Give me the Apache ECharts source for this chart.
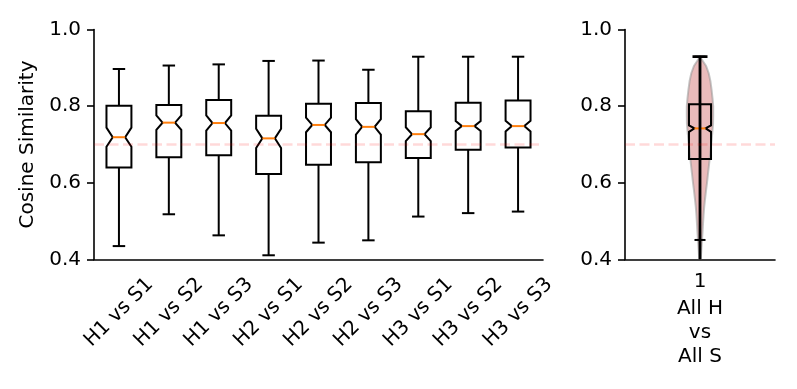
<!DOCTYPE html>
<html>
<head>
<meta charset="utf-8">
<script src="https://cdn.jsdelivr.net/npm/echarts@6/dist/echarts.min.js"></script>
<style>
html,body{margin:0;padding:0;background:#fff;}
#chart{width:797px;height:389px;}
</style>
</head>
<body>
<div id="chart"></div>
<script>
// ---------- data ----------
const categories = ['H1 vs S1','H1 vs S2','H1 vs S3','H2 vs S1','H2 vs S2','H2 vs S3','H3 vs S1','H3 vs S2','H3 vs S3'];
const whiskerLow  = [0.435, 0.518, 0.463, 0.411, 0.444, 0.450, 0.512, 0.521, 0.525];
const q1Vals      = [0.640, 0.667, 0.672, 0.623, 0.647, 0.654, 0.665, 0.686, 0.692];
const notchLow    = [0.694, 0.738, 0.736, 0.691, 0.732, 0.726, 0.709, 0.735, 0.734];
const medianVals  = [0.719, 0.757, 0.756, 0.716, 0.751, 0.746, 0.727, 0.748, 0.748];
const notchHigh   = [0.744, 0.776, 0.776, 0.741, 0.770, 0.766, 0.745, 0.761, 0.762];
const q3Vals      = [0.801, 0.803, 0.816, 0.775, 0.806, 0.808, 0.787, 0.809, 0.815];
const whiskerHigh = [0.897, 0.906, 0.909, 0.918, 0.919, 0.895, 0.929, 0.929, 0.929];

const allCategory = ['1'];
const allLabel = 'All H\nvs\nAll S';
// all-H-vs-all-S box stats: [whiskerLow, q1, notchLow, median, notchHigh, q3, whiskerHigh]
const allBox = [0.451, 0.662, 0.733, 0.742, 0.750, 0.805, 0.929];
const allMin = 0.38;
const allMax = 0.929;
// violin outline: value and relative density
const violinY       = [0.929, 0.905, 0.886, 0.865, 0.842, 0.820, 0.799, 0.777, 0.755, 0.734, 0.712, 0.690, 0.668, 0.646, 0.625, 0.600, 0.581, 0.560, 0.538, 0.516, 0.494, 0.470, 0.451, 0.430, 0.407, 0.380];
const violinDensity = [0.00, 0.46, 0.66, 0.79, 0.88, 0.95, 1.00, 1.00, 0.99, 0.94, 0.88, 0.81, 0.75, 0.68, 0.61, 0.53, 0.46, 0.39, 0.32, 0.27, 0.23, 0.19, 0.15, 0.11, 0.07, 0.03];

const threshold = 0.7;
const yTicks = [0.4, 0.6, 0.8, 1.0];

// ---------- styles ----------
const FONT = 'DejaVu Sans';
const FS = 20;
const BLACK = '#000';
const ORANGE = '#ff7f0e';

const boxData = categories.map((c, i) => [i, whiskerLow[i], q1Vals[i], notchLow[i], medianVals[i], notchHigh[i], q3Vals[i], whiskerHigh[i]]);

function makeBoxRenderer(widthFrac) {
  return function (params, api) {
    const x = api.value(0);
    const lo = api.value(1), q1 = api.value(2), nlo = api.value(3), med = api.value(4),
          nhi = api.value(5), q3 = api.value(6), hi = api.value(7);
    const band = api.size([1, 0])[0];
    const w = band * widthFrac;
    const cx = api.coord([x, med])[0];
    const y = v => api.coord([x, v])[1];
    const L = cx - w / 2, R = cx + w / 2, ins = w / 4, cap = w / 4;
    const pts = [[L, y(q1)], [R, y(q1)], [R, y(nlo)], [R - ins, y(med)], [R, y(nhi)], [R, y(q3)],
                 [L, y(q3)], [L, y(nhi)], [L + ins, y(med)], [L, y(nlo)]];
    const ls = {stroke: BLACK, lineWidth: 2, fill: null};
    return {
      type: 'group',
      children: [
        {type: 'polygon', shape: {points: pts}, style: {stroke: BLACK, lineWidth: 2, fill: 'none', lineJoin: 'miter'}},
        {type: 'line', shape: {x1: cx, y1: y(q1), x2: cx, y2: y(lo)}, style: ls},
        {type: 'line', shape: {x1: cx, y1: y(q3), x2: cx, y2: y(hi)}, style: ls},
        {type: 'line', shape: {x1: cx - cap, y1: y(lo), x2: cx + cap, y2: y(lo)}, style: ls},
        {type: 'line', shape: {x1: cx - cap, y1: y(hi), x2: cx + cap, y2: y(hi)}, style: ls},
        {type: 'line', shape: {x1: L + ins, y1: y(med), x2: R - ins, y2: y(med)}, style: {stroke: ORANGE, lineWidth: 2}}
      ]
    };
  };
}

function renderViolin(params, api) {
  const band = api.size([1, 0])[0];
  const maxHalf = band * 0.088;
  const cx = api.coord([0, allMax])[0];
  const left = [], right = [];
  for (let i = 0; i < violinY.length; i++) {
    const yy = api.coord([0, violinY[i]])[1];
    right.push([cx + violinDensity[i] * maxHalf, yy]);
    left.push([cx - violinDensity[i] * maxHalf, yy]);
  }
  const pts = right.concat(left.reverse());
  return {
    type: 'polygon', shape: {points: pts},
    style: {fill: 'rgba(205,92,92,0.42)', stroke: 'rgba(150,150,150,0.55)', lineWidth: 2}
  };
}

function renderBars(params, api) {
  const band = api.size([1, 0])[0];
  const cx = api.coord([0, allMax])[0];
  const yTop = api.coord([0, allMax])[1];
  const yBot = api.coord([0, allMin])[1];
  const cap = band * 0.05;
  const s = {stroke: BLACK, lineWidth: 2.8};
  return {
    type: 'group',
    children: [
      {type: 'line', shape: {x1: cx, y1: yTop, x2: cx, y2: yBot}, style: s},
      {type: 'line', shape: {x1: cx - cap, y1: yTop, x2: cx + cap, y2: yTop}, style: s},
      {type: 'line', shape: {x1: cx - cap, y1: yBot, x2: cx + cap, y2: yBot}, style: s}
    ]
  };
}

const axisText = {color: BLACK, fontFamily: FONT, fontSize: FS};
const yAxisCommon = {
  type: 'value', min: 0.4, max: 1.0, interval: 0.2,
  axisLine: {show: true, lineStyle: {color: BLACK, width: 1.6}},
  axisTick: {show: true, length: 7, lineStyle: {color: BLACK, width: 1.6}},
  axisLabel: Object.assign({margin: 13, formatter: v => v.toFixed(1)}, axisText),
  splitLine: {show: false}
};

const refLine = {
  silent: true, symbol: 'none', label: {show: false},
  lineStyle: {type: [10, 4.5], color: 'rgba(255,0,0,0.15)', width: 2.5},
  data: [{yAxis: threshold}]
};

const option = {
  backgroundColor: '#fff',
  animation: false,
  grid: [
    {left: 94, top: 29.5, width: 449, height: 230},
    {left: 625, top: 29.5, width: 150, height: 230}
  ],
  xAxis: [
    {
      type: 'category', gridIndex: 0, data: categories, boundaryGap: true,
      axisLine: {lineStyle: {color: BLACK, width: 1.6}},
      axisTick: {alignWithLabel: true, length: 7, lineStyle: {color: BLACK, width: 1.6}},
      axisLabel: Object.assign({interval: 0, rotate: 45, align: 'center', verticalAlign: 'middle', margin: 53}, axisText),
      splitLine: {show: false}
    },
    {
      type: 'category', gridIndex: 1, data: allCategory, boundaryGap: true,
      axisLine: {lineStyle: {color: BLACK, width: 1.6}},
      axisTick: {alignWithLabel: true, length: 7, lineStyle: {color: BLACK, width: 1.6}},
      axisLabel: Object.assign({margin: 12}, axisText),
      name: allLabel, nameLocation: 'middle', nameGap: 36,
      nameTextStyle: Object.assign({lineHeight: 24}, axisText),
      splitLine: {show: false}
    }
  ],
  yAxis: [
    Object.assign({gridIndex: 0, name: 'Cosine Similarity', nameLocation: 'middle', nameGap: 50,
      nameTextStyle: axisText}, yAxisCommon),
    Object.assign({gridIndex: 1}, yAxisCommon)
  ],
  series: [
    {
      type: 'custom', xAxisIndex: 0, yAxisIndex: 0, z: 1,
      renderItem: () => null, data: [[0, threshold]],
      markLine: refLine
    },
    {
      type: 'custom', xAxisIndex: 0, yAxisIndex: 0, z: 3,
      renderItem: makeBoxRenderer(0.5),
      encode: {x: 0, y: [1, 2, 3, 4, 5, 6, 7]},
      data: boxData
    },
    {
      type: 'custom', xAxisIndex: 1, yAxisIndex: 1, z: 1,
      renderItem: () => null, data: [[0, threshold]],
      markLine: refLine
    },
    {
      type: 'custom', xAxisIndex: 1, yAxisIndex: 1, z: 2, clip: true,
      renderItem: renderViolin, data: [[0, allMax]]
    },
    {
      type: 'custom', xAxisIndex: 1, yAxisIndex: 1, z: 3,
      renderItem: makeBoxRenderer(0.147),
      encode: {x: 0, y: [1, 2, 3, 4, 5, 6, 7]},
      data: [[0].concat(allBox)]
    },
    {
      type: 'custom', xAxisIndex: 1, yAxisIndex: 1, z: 4, clip: true,
      renderItem: renderBars, data: [[0, allMax]]
    }
  ]
};

const chart = echarts.init(document.getElementById('chart'), null, {renderer: 'canvas'});
chart.setOption(option);
</script>
</body>
</html>
